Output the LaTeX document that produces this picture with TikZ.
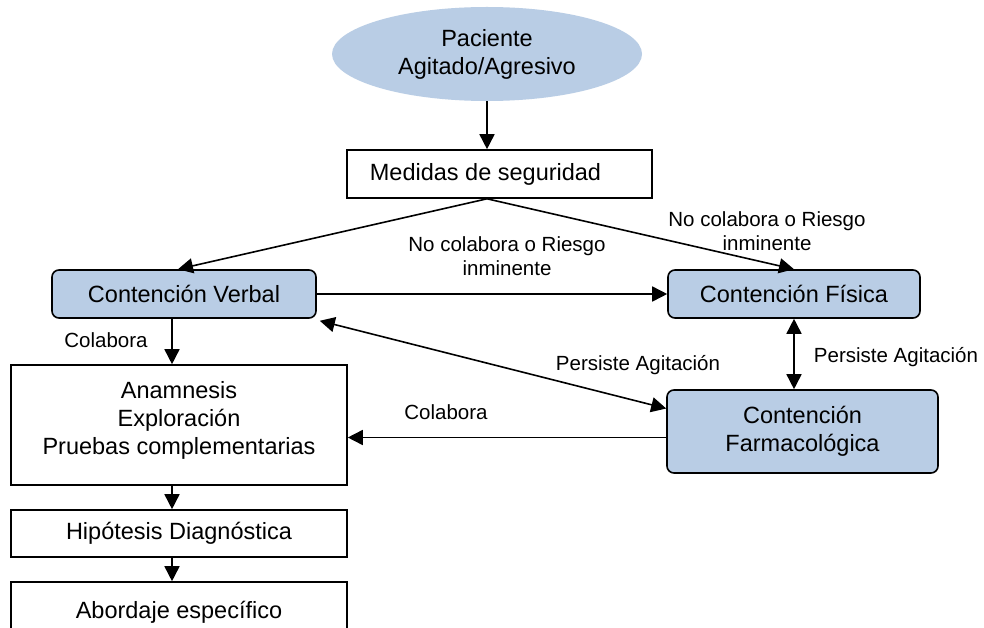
\documentclass[tikz,border=0pt]{standalone}
\usepackage{fontspec}
\setmainfont{Liberation Sans}
\usetikzlibrary{arrows.meta,shapes.geometric}
\definecolor{boxblue}{HTML}{B9CDE5}
\tikzset{
  every picture/.style={x=1pt,y=-1pt},
  mainfont/.style={font=\fontsize{23.5}{28}\selectfont},
  lblfont/.style={font=\fontsize{20.5}{24.5}\selectfont},
  plainbox/.style={draw=black,line width=1.6pt,fill=white,inner sep=0pt,mainfont,align=center},
  bluebox/.style={draw=black,line width=1.6pt,fill=boxblue,rounded corners=7pt,inner sep=0pt,mainfont,align=center},
  lbl/.style={lblfont,align=center,inner sep=0pt},
  arr/.style={line width=1.6pt,-{Triangle[length=15pt,width=15pt]}},
  darr/.style={line width=1.6pt,{Triangle[length=15pt,width=15pt]}-{Triangle[length=15pt,width=15pt]}},
  ln/.style={line width=1.6pt}
}
\begin{document}
\begin{tikzpicture}
\useasboundingbox (0,0) rectangle (984,628);
\clip (0,0) rectangle (984,628);
\fill[white] (0,0) rectangle (984,628);
% nodes
\node[ellipse,fill=boxblue,minimum width=310pt,minimum height=94pt,inner sep=0pt,mainfont,align=center] (pac) at (487,54) {Paciente\\Agitado/Agresivo};
\node[plainbox,minimum width=305pt,minimum height=48pt] (med) at (499.5,174) {\hbox to 305pt{\hfil Medidas de seguridad\hfil\hskip 28pt}};
\node[bluebox,minimum width=264pt,minimum height=48pt] (cv) at (184,294) {Contención Verbal};
\node[bluebox,minimum width=252pt,minimum height=48pt] (cf) at (794,294) {Contención Física};
\node[plainbox,minimum width=336pt,minimum height=120pt] (anam) at (179,425) {Anamnesis\\Exploración\\Pruebas complementarias\\[-14pt]\mbox{}};
\node[plainbox,minimum width=336pt,minimum height=47pt] (hip) at (179,533.5) {Hipótesis Diagnóstica};
\node[plainbox,minimum width=336pt,minimum height=60pt] (abo) at (179,612) {Abordaje específico};
\node[bluebox,minimum width=271pt,minimum height=83pt] (farm) at (802.5,431.5) {Contención\\Farmacológica};
% labels
\node[lbl] (l1) at (507,256) {No colabora o Riesgo\\inminente};
\node[lbl] (l2) at (767,231) {No colabora o Riesgo\\inminente};
\node[lbl] (l3) at (106,340) {Colabora};
\node[lbl] (l4) at (638,365) {Persiste Agitación};
\node[lbl] (l5) at (896,357) {Persiste Agitación};
\node[lbl] (l6) at (446,412) {Colabora};
% connectors
\draw[arr] (pac.south) -- (pac.south |- med.north);
\draw[arr] ([xshift=-12.5pt]med.south) -- ([xshift=-6pt]cv.north);
\draw[arr] ([xshift=-12.5pt]med.south) -- (cf.north);
\draw[arr] (cv.east) -- (cf.west);
\draw[arr] ([xshift=-12pt]cv.south) -- ([xshift=-12pt]cv.south |- anam.north);
\draw[darr] ([xshift=3pt,yshift=-2pt]cv.south east) -- ([yshift=23pt]farm.west);
\draw[darr] (cf.south) -- (cf.south |- farm.north);
\draw[arr] ([yshift=-6pt]farm.west) -- ([yshift=-6pt]farm.west -| anam.east);
\draw[arr] ([xshift=-7pt]anam.south) -- ([xshift=-7pt]hip.north);
\draw[arr] ([xshift=-7pt]hip.south) -- ([xshift=-7pt]abo.north);
\end{tikzpicture}
\end{document}
